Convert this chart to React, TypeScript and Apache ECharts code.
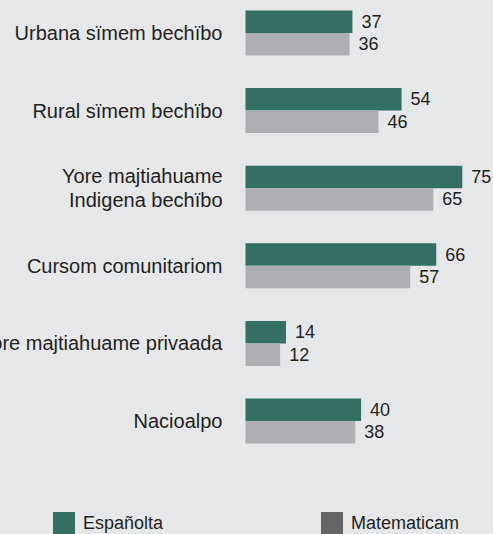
import React, { useEffect, useRef } from "react";
import * as echarts from "echarts";

const categories = [
  "Urbana sïmem bechïbo",
  "Rural sïmem bechïbo",
  "Yore majtiahuame\nIndigena bechïbo",
  "Cursom comunitariom",
  "Yore majtiahuame privaada",
  "Nacioalpo",
];
const espanolta = [37, 54, 75, 66, 14, 40];
const matematicam = [36, 46, 65, 57, 12, 38];
const seriesNames = ["Españolta", "Matematicam"];

const GREEN = "#336f63";
const GRAY = "#aeafb2";
const LEGEND_GRAY = "#656567";
const TEXT = "#231f20";
const FONT = "'Liberation Sans', Arial, Helvetica, sans-serif";

export default function App() {
  const ref = useRef<HTMLDivElement>(null);
  useEffect(() => {
    document.body.style.margin = "0";
    const chart = echarts.init(ref.current!, null, { renderer: "svg" });
    const legendCommon = {
      top: 512,
      padding: 0,
      itemWidth: 22,
      itemHeight: 22,
      itemGap: 0,
      icon: "rect",
      textStyle: { fontSize: 18, color: TEXT, fontFamily: FONT, padding: [0, 0, 0, 3] },
      selectedMode: false,
    };
    chart.setOption({
      animation: false,
      backgroundColor: "#e6e7e9",
      textStyle: { fontFamily: FONT, color: TEXT },
      grid: {
        left: 245.5,
        top: -5.8,
        height: 465.6,
        width: 231.2,
        containLabel: false,
        outerBoundsMode: "none",
      },
      xAxis: { type: "value", min: 0, max: 80, show: false },
      yAxis: {
        type: "category",
        data: categories,
        inverse: true,
        axisLine: { show: false },
        axisTick: { show: false },
        splitLine: { show: false },
        axisLabel: {
          margin: 23,
          fontSize: 20,
          color: TEXT,
          fontFamily: FONT,
          lineHeight: 24,
          align: "right",
        },
      },
      legend: [
        {
          ...legendCommon,
          data: [{ name: seriesNames[0], itemStyle: { color: GREEN } }],
          left: 53,
        },
        {
          ...legendCommon,
          data: [{ name: seriesNames[1], itemStyle: { color: LEGEND_GRAY } }],
          left: 321,
        },
      ],
      series: [
        {
          name: seriesNames[0],
          type: "bar",
          data: espanolta,
          barWidth: 22.5,
          barGap: "0%",
          itemStyle: { color: GREEN },
          label: {
            show: true,
            position: "right",
            distance: 9,
            fontSize: 18,
            color: TEXT,
            fontFamily: FONT,
          },
        },
        {
          name: seriesNames[1],
          type: "bar",
          data: matematicam,
          barWidth: 22.5,
          barGap: "0%",
          itemStyle: { color: GRAY },
          label: {
            show: true,
            position: "right",
            distance: 9,
            fontSize: 18,
            color: TEXT,
            fontFamily: FONT,
          },
        },
      ],
    });
    return () => chart.dispose();
  }, []);
  return <div ref={ref} style={{ width: 493, height: 534 }} />;
}
